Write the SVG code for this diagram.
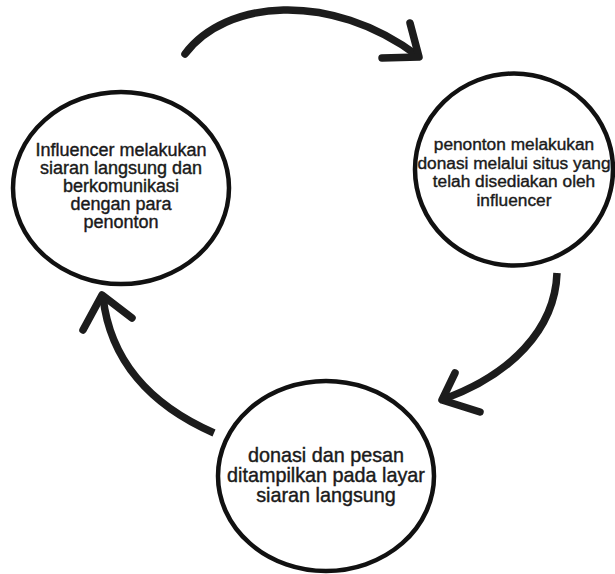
<svg xmlns="http://www.w3.org/2000/svg" width="615" height="574" viewBox="0 0 615 574">
<style>
.node{fill:#ffffff;stroke:#111111;stroke-width:4.5}
.lbl{font-family:"Liberation Sans",Arial,Helvetica,sans-serif;fill:#1a1a1a;text-anchor:middle;stroke:#1a1a1a;stroke-width:0.4}
.shaft{fill:none;stroke:#1c1c1c;stroke-width:7.5}
.head{fill:none;stroke:#1c1c1c;stroke-width:7.5;stroke-linecap:round;stroke-linejoin:round}
</style>
<rect width="615" height="574" fill="#ffffff"/>
<g id="connectors">
  <path class="shaft" d="M185,54 C225,0 330,-10 418,56" stroke-linecap="round"/>
  <path class="head" d="M410,23 L419,57 L382,58"/>
  <path class="shaft" d="M557,273 C555,330 510,375 444,399"/>
  <path class="head" d="M455,373 L442,400 L480,412"/>
  <path class="shaft" d="M214,433 C150,405 110,360 103,297"/>
  <path class="head" d="M83,330 L102,295 L132,318"/>
</g>
<g id="node-influencer">
  <ellipse class="node" cx="121" cy="188" rx="108" ry="96"/>
  <text class="lbl" font-size="18" x="121" y="156">Influencer melakukan</text>
  <text class="lbl" font-size="18" x="121" y="174">siaran langsung dan</text>
  <text class="lbl" font-size="18" x="121" y="192">berkomunikasi</text>
  <text class="lbl" font-size="18" x="121" y="210">dengan para</text>
  <text class="lbl" font-size="18" x="121" y="228">penonton</text>
</g>
<g id="node-penonton">
  <ellipse class="node" cx="514" cy="169.5" rx="99" ry="96"/>
  <text class="lbl" font-size="17.3" x="514" y="150">penonton melakukan</text>
  <text class="lbl" font-size="17.3" x="514" y="168.5">donasi melalui situs yang</text>
  <text class="lbl" font-size="17.3" x="514" y="187">telah disediakan oleh</text>
  <text class="lbl" font-size="17.3" x="514" y="205.5">influencer</text>
</g>
<g id="node-donasi">
  <ellipse class="node" cx="326" cy="476" rx="108" ry="95"/>
  <text class="lbl" font-size="19.8" x="326" y="462">donasi dan pesan</text>
  <text class="lbl" font-size="19.8" x="326" y="482">ditampilkan pada layar</text>
  <text class="lbl" font-size="19.8" x="326" y="502">siaran langsung</text>
</g>
</svg>
